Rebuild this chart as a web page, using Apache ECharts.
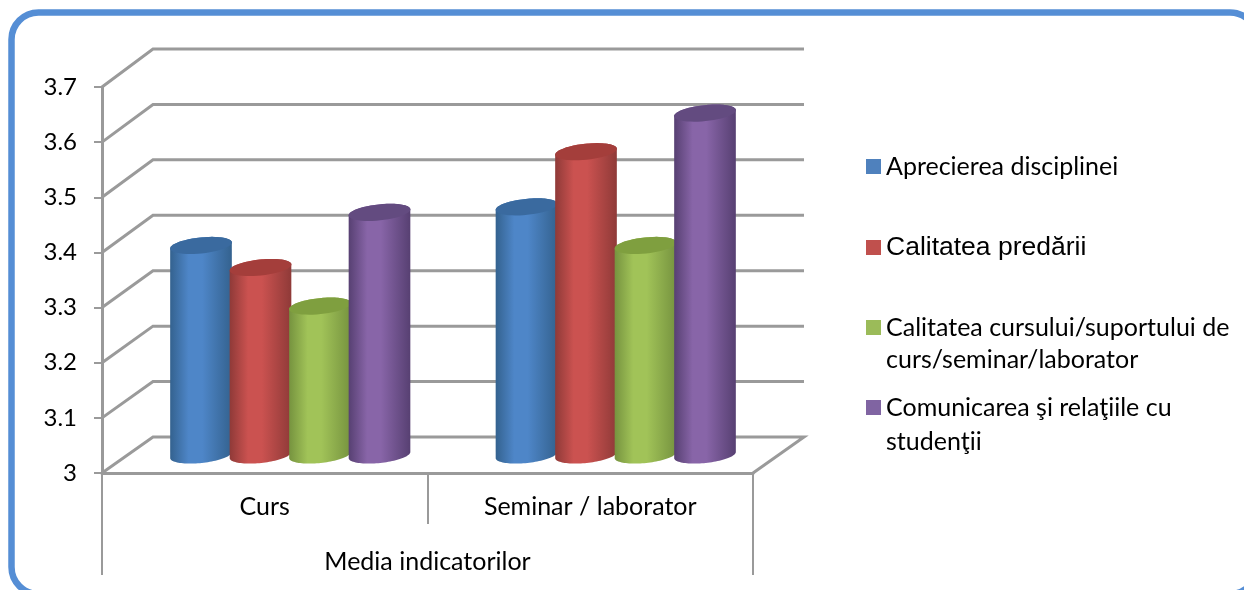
<!DOCTYPE html>
<html>
<head>
<meta charset="utf-8">
<title>Media indicatorilor</title>
<script src="https://cdn.jsdelivr.net/npm/echarts@6/dist/echarts.min.js"></script>
<style>
  html, body { margin: 0; padding: 0; background: #fff; overflow: hidden; }
  #chart { width: 1244px; height: 590px; }
</style>
</head>
<body>
<div id="chart"></div>
<script>
var categories = ['Curs', 'Seminar / laborator'];
var groupLabel = ['Media indicatorilor'];
var yTicks = [3, 3.1, 3.2, 3.3, 3.4, 3.5, 3.6, 3.7];

var seriesNames = [
  'Aprecierea disciplinei',
  'Calitatea predării',
  'Calitatea cursului/suportului de curs/seminar/laborator',
  'Comunicarea şi relaţiile cu studenţii'
];
var aprecierea = [3.38, 3.45];
var predare = [3.34, 3.55];
var suport = [3.27, 3.38];
var comunicare = [3.44, 3.62];

// flat colour, then edge / middle / top-cap shades of the cylinder
var flatColors = ['#4F81BD', '#C0504D', '#9BBB59', '#8064A2'];
var edgeColors = ['#34628F', '#8F3A38', '#76933F', '#574072'];
var midColors = ['#4E86C8', '#CB5250', '#A1C358', '#8865A8'];
var capColors = ['#3A6A9F', '#A43E3B', '#7F9F3F', '#634B80'];

var AXIS_GREY = '#9A9A9A';
var DEPTH_X = 51, DEPTH_Y = 36, DEPTH_Y_TOP = 38;
var PITCH = 59.5, RX = 31, RY = 8, TILT = 6 * Math.PI / 180;

function ellipsePoint(cx, cy, a) {
  var x = RX * Math.cos(a), y = RY * Math.sin(a);
  return [cx + x * Math.cos(TILT) + y * Math.sin(TILT), cy - x * Math.sin(TILT) + y * Math.cos(TILT)];
}

function ellipseArc(cx, cy, from, to) {
  var pts = [];
  for (var i = 0; i <= 48; i++) {
    pts.push(ellipsePoint(cx, cy, from + (to - from) * i / 48));
  }
  return pts;
}

function cylinder(idx) {
  return function (params, api) {
    var top = api.coord([api.value(0), api.value(1)]);
    var base = api.coord([api.value(0), 3]);
    var cx = top[0] + DEPTH_X / 2 + (idx - 1.5) * PITCH;
    var topY = top[1] - DEPTH_Y / 2;
    var baseY = base[1] - DEPTH_Y / 2;
    // right side of the base round the bottom to the left, then back over the top
    var body = ellipseArc(cx, baseY, 0, Math.PI).concat(ellipseArc(cx, topY, Math.PI, 2 * Math.PI));
    return {
      type: 'group',
      children: [{
        type: 'polygon',
        shape: { points: body },
        style: {
          fill: new echarts.graphic.LinearGradient(0, 0, 1, 0, [
            { offset: 0, color: edgeColors[idx] },
            { offset: 0.3, color: midColors[idx] },
            { offset: 0.52, color: midColors[idx] },
            { offset: 1, color: edgeColors[idx] }
          ])
        }
      }, {
        type: 'polygon',
        shape: { points: ellipseArc(cx, topY, 0, 2 * Math.PI) },
        style: { fill: capColors[idx] }
      }]
    };
  };
}

function wallLine(params, api) {
  var v = api.value(0);
  var p = api.coord([0, v]);
  var x0 = params.coordSys.x, w = params.coordSys.width;
  // the back wall is drawn a little taller than the front axis
  var d = DEPTH_Y + (DEPTH_Y_TOP - DEPTH_Y) * (v - yTicks[0]) / (yTicks[yTicks.length - 1] - yTicks[0]);
  var pts = [[x0, p[1]], [x0 + DEPTH_X, p[1] - d], [x0 + w + DEPTH_X, p[1] - d]];
  if (v === yTicks[0]) {
    pts.push([x0 + w, p[1]]);
  }
  return {
    type: 'polyline',
    shape: { points: pts },
    style: { fill: null, stroke: AXIS_GREY, lineWidth: 3 }
  };
}

function cylinderSeries(name, values, idx) {
  return {
    name: name,
    type: 'custom',
    coordinateSystem: 'cartesian2d',
    itemStyle: { color: flatColors[idx] },
    data: values.map(function (v, i) { return [i, v]; }),
    encode: { x: 0, y: 1 },
    renderItem: cylinder(idx),
    z: 3 + idx
  };
}

var calibriLike = 'Lato';
// leading blank line keeps the marker level with the first line of wrapped text
var legendText = [
  seriesNames[0],
  seriesNames[1],
  '\nCalitatea cursului/suportului de\ncurs/seminar/laborator',
  '\nComunicarea şi relaţiile cu\nstudenţii'
];

function legendFor(idx, top, style) {
  return {
    data: [{ name: seriesNames[idx], icon: 'rect' }],
    left: 866,
    top: top,
    padding: 0,
    itemWidth: 15,
    itemHeight: 15,
    itemGap: 6,
    selectedMode: false,
    formatter: function () { return legendText[idx]; },
    textStyle: style
  };
}

var chart = echarts.init(document.getElementById('chart'), null, { renderer: 'canvas' });
chart.setOption({
  animation: false,
  backgroundColor: '#fff',
  textStyle: { fontFamily: calibriLike },
  graphic: [{
    type: 'rect',
    silent: true,
    z: 0,
    shape: { x: 11.5, y: 12.5, width: 1245.5, height: 581.5, r: 27 },
    style: { fill: '#fff', stroke: '#558ED5', lineWidth: 6.5 }
  }],
  legend: [
    legendFor(0, 154, { fontFamily: calibriLike, fontSize: 25, color: '#000' }),
    legendFor(1, 234, { fontFamily: 'Liberation Sans', fontSize: 26.5, color: '#000' }),
    legendFor(2, 279.5, { fontFamily: calibriLike, fontSize: 25, lineHeight: 32, color: '#000' }),
    legendFor(3, 356.5, { fontFamily: calibriLike, fontSize: 25, lineHeight: 34, color: '#000' })
  ],
  grid: { left: 102, top: 87, width: 651, height: 386 },
  xAxis: [{
    type: 'category',
    data: categories,
    position: 'bottom',
    axisLine: { lineStyle: { color: AXIS_GREY, width: 3 } },
    axisTick: { show: true, length: 51, lineStyle: { color: AXIS_GREY, width: 2 } },
    axisLabel: { margin: 21, fontFamily: calibriLike, fontSize: 25, color: '#000' }
  }, {
    type: 'category',
    data: groupLabel,
    position: 'bottom',
    axisLine: { show: false },
    axisTick: { show: true, length: 102, lineStyle: { color: AXIS_GREY, width: 2 } },
    axisLabel: { margin: 76, fontFamily: calibriLike, fontSize: 25, color: '#000' }
  }],
  yAxis: {
    type: 'value',
    min: 3,
    max: 3.7,
    interval: 0.1,
    axisLine: { show: true, lineStyle: { color: AXIS_GREY, width: 3 } },
    axisTick: { show: true, length: 8, lineStyle: { color: AXIS_GREY, width: 2 } },
    splitLine: { show: false },
    axisLabel: {
      margin: 25,
      fontFamily: calibriLike,
      fontSize: 24,
      color: '#000',
      formatter: function (v) { return String(Math.round(v * 10) / 10); }
    }
  },
  series: [{
    type: 'custom',
    coordinateSystem: 'cartesian2d',
    silent: true,
    data: yTicks.map(function (t) { return [t]; }),
    encode: { y: 0 },
    renderItem: wallLine,
    z: 1
  },
    cylinderSeries(seriesNames[0], aprecierea, 0),
    cylinderSeries(seriesNames[1], predare, 1),
    cylinderSeries(seriesNames[2], suport, 2),
    cylinderSeries(seriesNames[3], comunicare, 3)
  ]
});
window.addEventListener('resize', function () { chart.resize(); });
</script>
</body>
</html>
